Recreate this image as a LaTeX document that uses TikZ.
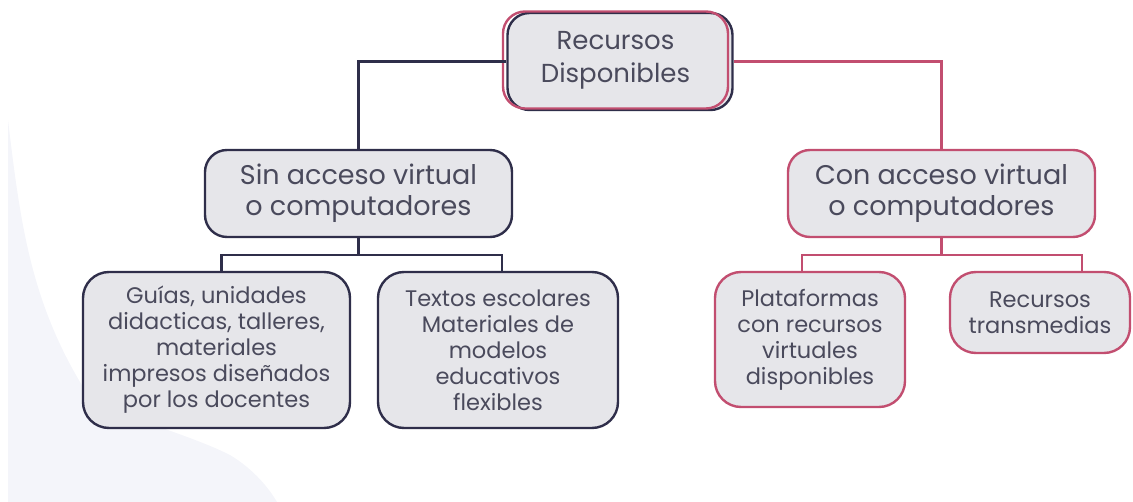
\documentclass[tikz,border=0pt]{standalone}
\usepackage{fontspec}
\setmainfont{Poppins}
\usepackage{tikz}
\usetikzlibrary{positioning}
\definecolor{navy}{HTML}{2F2E4A}
\definecolor{rose}{HTML}{C24E70}
\definecolor{boxgray}{HTML}{E6E6EA}
\definecolor{txt}{HTML}{4A4A5C}
\definecolor{blob}{HTML}{F4F5FA}
\tikzstyle{box}=[rectangle, rounded corners=22pt, fill=boxgray, line width=2.4pt, text=txt, align=center, inner sep=0pt]
\tikzstyle{rootbox}=[box, minimum width=225pt, minimum height=97pt, font=\fontsize{26}{33}\selectfont]
\tikzstyle{midbox}=[box, minimum width=307pt, minimum height=87pt, font=\fontsize{27}{31}\selectfont]
\tikzstyle{leafbox}=[box, rounded corners=26pt, font=\fontsize{22.5}{26}\selectfont]
\tikzstyle{link}=[line width=2.4pt]

\begin{document}
\begin{tikzpicture}[x=1pt, y=-1pt]
	\useasboundingbox (0,0) rectangle (1133,502);
	\fill[blob] (8,120) .. controls (20,220) and (30,300) .. (83,387)
		.. controls (120,420) and (180,430) .. (230,455)
		.. controls (255,470) and (270,490) .. (277,502) -- (8,502) -- cycle;

	% root
	\node[rootbox, draw=navy] (rootb) at (620,61.5) {};
	\node[rootbox, draw=rose, fill=none] (root) at (615.5,60) {Recursos\\Disponibles};

	% second level
	\node[midbox, draw=navy] (sin) at (358.5,193.5) {Sin acceso virtual\\o computadores};
	\node[midbox, draw=rose] (con) at (941.5,193.5) {Con acceso virtual\\o computadores};

	% leaves
	\node[leafbox, draw=navy, minimum width=267pt, minimum height=156pt] (guias) at (216.5,350)
		{Guías, unidades\\didacticas, talleres,\\materiales\\impresos diseñados\\por los docentes};
	\node[leafbox, draw=navy, minimum width=240pt, minimum height=156pt] (textos) at (498,350)
		{Textos escolares\\Materiales de\\modelos\\educativos\\flexibles};
	\node[leafbox, draw=rose, minimum width=190pt, minimum height=135pt] (plat) at (810,339.5)
		{Plataformas\\con recursos\\virtuales\\disponibles};
	\node[leafbox, draw=rose, minimum width=180pt, minimum height=81pt] (transm) at (1040,312.5)
		{Recursos\\transmedias};

	% connectors
	\draw[link, navy] (rootb.west) -| (sin.north);
	\draw[link, rose] (rootb.east) -| (con.north);
	\coordinate (sinfork) at (sin.south |- 0,255);
	\coordinate (confork) at (con.south |- 0,255);
	\draw[link, navy] (sin.south) -- (sinfork) -| ([xshift=5pt]guias.north);
	\draw[link, navy] (sinfork) -| ([xshift=4pt]textos.north);
	\draw[link, rose] (con.south) -- (confork) -| ([xshift=-8pt]plat.north);
	\draw[link, rose] (confork) -| ([xshift=42pt]transm.north);
\end{tikzpicture}
\end{document}
